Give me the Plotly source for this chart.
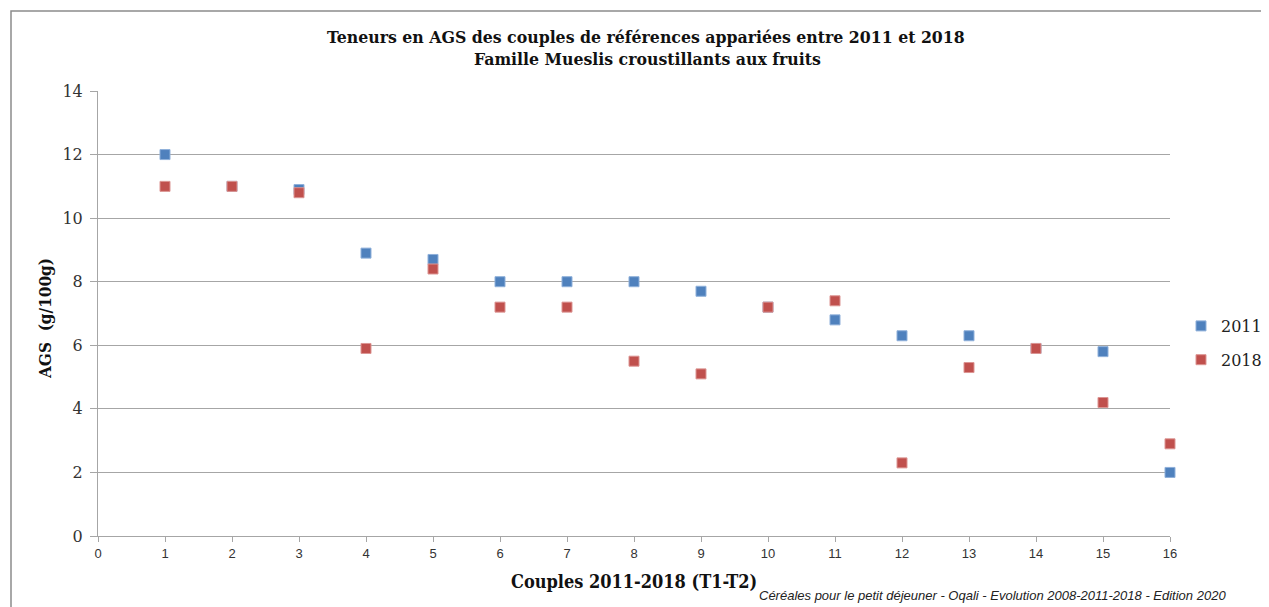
import plotly.graph_objects as go

couples = list(range(1, 17))
ags_2011 = [12.0, 11.0, 10.9, 8.9, 8.7, 8.0, 8.0, 8.0, 7.7, 7.2, 6.8, 6.3, 6.3, 5.9, 5.8, 2.0]
ags_2018 = [11.0, 11.0, 10.8, 5.9, 8.4, 7.2, 7.2, 5.5, 5.1, 7.2, 7.4, 2.3, 5.3, 5.9, 4.2, 2.9]
series_names = ["2011", "2018"]
colors = ["#4f81bd", "#c0504d"]
border_colors = ["#8fb0da", "#dc9593"]

title_lines = ["Teneurs en AGS des couples de références appariées entre 2011 et 2018",
               "Famille Mueslis croustillants aux fruits"]
x_title = "Couples 2011-2018 (T1-T2)"
y_title = "AGS  (g/100g)"
caption = "Céréales pour le petit déjeuner - Oqali - Evolution 2008-2011-2018 - Edition 2020"

OFF = 8  # page body margin
W, H = 1269 - OFF, 607 - OFF
PL, PR, PT, PB = 98, 1170, 91, 536  # plot area in screen pixels
L, R, T, B = PL - OFF, 1269 - PR, PT - OFF, 607 - PB
pw, ph = PR - PL, PB - PT

def px(xp):
    return (xp - PL) / pw

def py(yp):
    return (PB - yp) / ph

fig = go.Figure()
for name, vals, c, bc in zip(series_names, [ags_2011, ags_2018], colors, border_colors):
    fig.add_trace(go.Scatter(
        x=couples, y=vals, mode="markers", name=name, legendgroup=name,
        marker=dict(symbol="square", size=10, color=c, line=dict(color=bc, width=1)),
        cliponaxis=False,
    ))

serif = "DejaVu Serif, serif"
serif_c = "DejaVu Serif Condensed, Liberation Serif, serif"
sans = "Liberation Sans, Arial, sans-serif"

fig.update_layout(
    width=W, height=H,
    margin=dict(l=L, r=R, t=T, b=B, autoexpand=False),
    paper_bgcolor="white", plot_bgcolor="white",
    showlegend=True,
    legend=dict(x=px(1181), y=py(343), xanchor="left", yanchor="middle",
                font=dict(family=serif, size=16, color="#222222"),
                itemwidth=30, tracegroupgap=10, bgcolor="rgba(0,0,0,0)"),
    xaxis=dict(range=[0, 16], dtick=1, tick0=0, showgrid=False, zeroline=False,
               showline=True, linecolor="#a6a6a6", linewidth=1,
               ticks="outside", ticklen=5, tickcolor="#a6a6a6",
               tickfont=dict(family=sans, size=13, color="#333333")),
    yaxis=dict(range=[0, 14], dtick=2, tick0=0, showgrid=True, gridcolor="#a6a6a6",
               zeroline=False, showline=True, linecolor="#a6a6a6", linewidth=1,
               ticks="outside", ticklen=7, tickcolor="#a6a6a6", ticklabelstandoff=4,
               tickfont=dict(family=serif, size=16, color="#333333")),
    shapes=[dict(type="path", xref="paper", yref="paper",
                 path=f"M {px(11)} {py(620)} L {px(11)} {py(11)} L {px(1280)} {py(11)}",
                 line=dict(color="#8c8c8c", width=1.5))],
    annotations=[
        dict(text="<b>" + title_lines[0] + "</b>", x=px(646), y=py(37), xref="paper", yref="paper",
             showarrow=False, xanchor="center", yanchor="middle",
             font=dict(family=serif_c, size=17.5, color="#111111")),
        dict(text="<b>" + title_lines[1] + "</b>", x=px(647), y=py(59), xref="paper", yref="paper",
             showarrow=False, xanchor="center", yanchor="middle",
             font=dict(family=serif_c, size=17.5, color="#111111")),
        dict(text="<b>" + x_title + "</b>", x=px(634), y=py(581), xref="paper", yref="paper",
             showarrow=False, xanchor="center", yanchor="middle",
             font=dict(family=serif_c, size=18, color="#111111")),
        dict(text="<b>" + y_title + "</b>", x=px(45), y=py(319), xref="paper", yref="paper",
             showarrow=False, xanchor="center", yanchor="middle", textangle=-90,
             font=dict(family=serif_c, size=17, color="#111111")),
        dict(text="<i>" + caption + "</i>", x=px(1228), y=py(595), xref="paper", yref="paper",
             showarrow=False, xanchor="right", yanchor="middle",
             font=dict(family=sans, size=13, color="#222222")),
    ],
)

fig.write_html("out.html")
